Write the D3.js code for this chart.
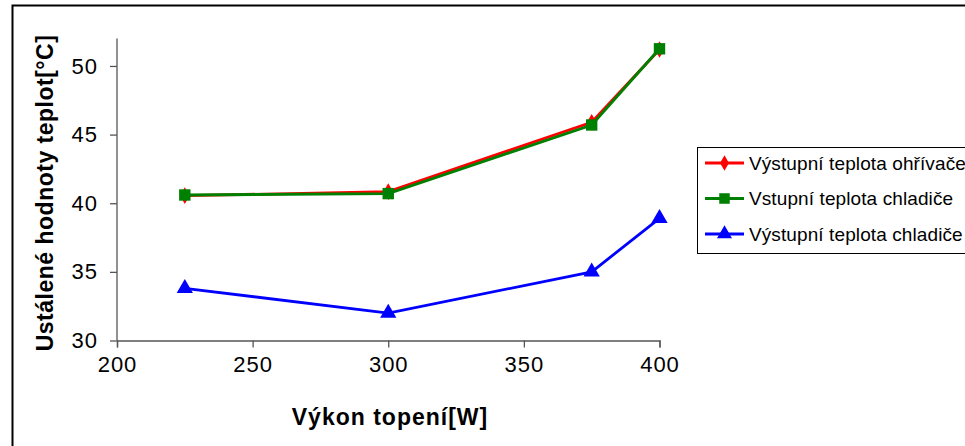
<!DOCTYPE html>
<html><head><meta charset="utf-8">
<script src="https://cdn.jsdelivr.net/npm/d3@7"></script>
<style>body{margin:0;background:#fff;}svg{display:block;font-family:"Liberation Sans",Arial,sans-serif;}</style>
</head><body>
<svg id="c" width="965" height="446"></svg>
<script>
const xValues = [225, 300, 375, 400];
const seriesNames = ["Výstupní teplota ohřívače", "Vstupní teplota chladiče", "Výstupní teplota chladiče"];
const heaterOut = [40.55, 40.85, 45.9, 51.2];
const coolerIn = [40.6, 40.7, 45.7, 51.25];
const coolerOut = [33.8, 32.0, 35.0, 38.9];
const xTicks = [200, 250, 300, 350, 400];
const yTicks = [30, 35, 40, 45, 50];
const colors = ["#ff0000", "#008000", "#0000ff"];
const markers = [d3.symbolDiamond, d3.symbolSquare, d3.symbolTriangle];
const markerSizes = [80, 130, 115];

const svg = d3.select("#c");
// outer border
svg.append("rect").attr("x", 12.5).attr("y", 5.5).attr("width", 1000).attr("height", 500)
  .attr("fill", "none").attr("stroke", "#000").attr("stroke-width", 2);

const x = d3.scaleLinear().domain([200, 400]).range([117, 659.5]);
const y = d3.scaleLinear().domain([30, 52]).range([340.5, 38.5]);

const gx = svg.append("g").attr("transform", "translate(0,340.5)")
  .call(d3.axisBottom(x).tickValues(xTicks).tickSize(7).tickPadding(9));
gx.select(".domain").attr("stroke", "#555").attr("stroke-width", 1.3);
gx.selectAll(".tick line").attr("stroke", "#555").attr("stroke-width", 1.3);
gx.selectAll("text").attr("font-size", 22).attr("letter-spacing", 1).attr("fill", "#000").attr("font-family", "Liberation Sans, Arial");

const gy = svg.append("g").attr("transform", "translate(117,0)")
  .call(d3.axisLeft(y).tickValues(yTicks).tickSize(7).tickPadding(12));
gy.select(".domain").attr("stroke", "#555").attr("stroke-width", 1.3);
gy.selectAll(".tick line").attr("stroke", "#555").attr("stroke-width", 1.3);
gy.selectAll("text").attr("font-size", 22).attr("letter-spacing", 1).attr("fill", "#000").attr("font-family", "Liberation Sans, Arial");
gy.select(".domain").attr("d", "M0,38.5V340.5");

const allSeries = [heaterOut, coolerIn, coolerOut];
const line = d3.line().x((d, i) => x(xValues[i])).y(d => y(d));
allSeries.forEach((s, k) => {
  svg.append("path").datum(s).attr("d", line).attr("fill", "none")
    .attr("stroke", colors[k]).attr("stroke-width", 2.8);
  svg.selectAll(null).data(s).enter().append("path")
    .attr("d", d3.symbol().type(markers[k]).size(markerSizes[k]))
    .attr("transform", (d, i) => `translate(${x(xValues[i])},${y(d)})`)
    .attr("fill", colors[k]);
});

// axis titles
svg.append("text").attr("x", 390).attr("y", 425).attr("text-anchor", "middle")
  .attr("font-size", 23).attr("letter-spacing", 1).attr("font-weight", "bold").text("Výkon topení[W]");
svg.append("text").attr("transform", "translate(53,193) rotate(-90)").attr("text-anchor", "middle")
  .attr("font-size", 23).attr("letter-spacing", 0.5).attr("font-weight", "bold").text("Ustálené hodnoty teplot[°C]");

// legend
const lg = svg.append("g");
lg.append("rect").attr("x", 697.5).attr("y", 147.5).attr("width", 280).attr("height", 106)
  .attr("fill", "#fff").attr("stroke", "#000").attr("stroke-width", 1);
seriesNames.forEach((n, k) => {
  const cy = 163 + k * 35.5;
  lg.append("line").attr("x1", 705).attr("x2", 744).attr("y1", cy).attr("y2", cy)
    .attr("stroke", colors[k]).attr("stroke-width", 2.8);
  lg.append("path").attr("d", d3.symbol().type(markers[k]).size(markerSizes[k] * 0.85)())
    .attr("transform", `translate(724.5,${cy})`).attr("fill", colors[k]);
  lg.append("text").attr("x", 749).attr("y", cy + 6.5).attr("font-size", 19).attr("letter-spacing", 0.1).text(n);
});
</script>
</body></html>
